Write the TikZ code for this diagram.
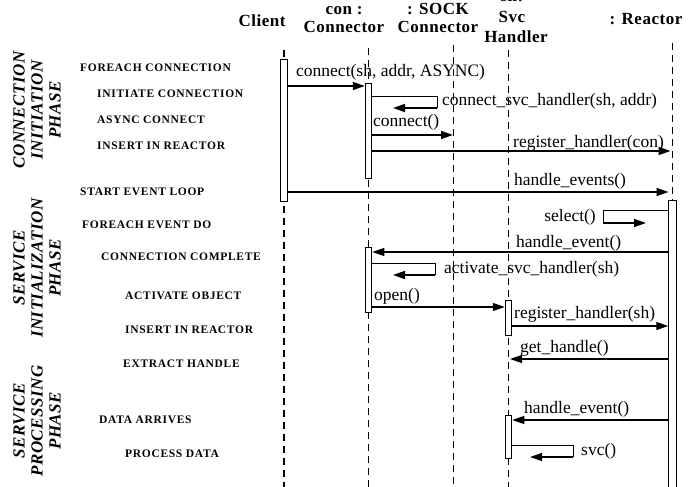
\documentclass[tikz,border=0pt]{standalone}
\usepackage{fontspec}
\setmainfont{Liberation Serif}
\newfontfamily\hdrfont[LetterSpace=3]{Liberation Serif}
\newfontfamily\stepfont[LetterSpace=6]{Liberation Serif}
\usetikzlibrary{arrows.meta}
\tikzset{
  hdr/.style={font=\hdrfont\bfseries\fontsize{17}{19}\selectfont, inner sep=0, anchor=base},
  steplbl/.style={font=\stepfont\bfseries\fontsize{11.5}{13}\selectfont, inner sep=0, anchor=base west},
  msglbl/.style={font=\fontsize{17.5}{19}\selectfont, inner sep=0, anchor=base west},
  phase/.style={font=\hdrfont\bfseries\itshape\fontsize{17}{18}\selectfont, rotate=90, align=center, inner sep=0},
  lifeline/.style={line width=1.1pt, dash pattern=on 7pt off 5pt},
  actbox/.style={draw, fill=white, line width=1pt, minimum width=6.5pt, inner sep=0},
  msg/.style={line width=1.3pt, -{Triangle[length=12pt,width=8pt]}},
  thinmsg/.style={line width=1pt},
}
\begin{document}
\begin{tikzpicture}[x=1pt,y=-1pt]
\useasboundingbox (0,0) rectangle (694,487);
% headers
\node[hdr] (hcl) at (262,27) {Client};
\node[hdr] (hcon1) at (344,15) {con :};
\node[hdr] (hcon2) at (344,33) {Connector};
\node[hdr] (hsock1) at (438,15) {: SOCK};
\node[hdr] (hsock2) at (438,33) {Connector};
\node[hdr] (hsvc0) at (512,2) {sh:};
\node[hdr] (hsvc1) at (512,23) {Svc};
\node[hdr] (hsvc2) at (516,43) {Handler};
\node[hdr] (hre) at (646,25) {: Reactor};
% lifelines
\coordinate (clT) at (284,50);  \coordinate (clB) at (284,487);
\coordinate (conT) at (368.5,48); \coordinate (conB) at (368.5,487);
\coordinate (sockT) at (453,45); \coordinate (sockB) at (453,487);
\coordinate (svcT) at (508.5,50); \coordinate (svcB) at (508.5,487);
\coordinate (reT) at (672.5,43); \coordinate (reB) at (672.5,487);
\draw[lifeline] (clT) -- (clB);
\draw[lifeline] (conT) -- (conB);
\draw[lifeline, line width=0.8pt] (sockT) -- (sockB);
\draw[lifeline, line width=0.8pt] (svcT) -- (svcB);
\draw[lifeline] (reT) -- (reB);
% activation boxes
\node[actbox, minimum height=141pt] (clA) at (284,130.5) {};
\node[actbox, minimum height=94pt] (conA) at (368.5,131) {};
\node[actbox, minimum height=65pt] (conB2) at (368.5,279.5) {};
\node[actbox, minimum height=35pt] (svcA) at (508.5,317.5) {};
\node[actbox, minimum height=43pt] (svcA2) at (508.5,436.5) {};
\node[actbox, minimum height=300pt, minimum width=7.5pt] (reA) at (672.5,350) {};
% message levels
\coordinate (y1) at (0,86);
\coordinate (y3) at (0,135);
\coordinate (y4) at (0,151);
\coordinate (y5) at (0,192);
\coordinate (y7) at (0,252);
\coordinate (y9) at (0,307);
\coordinate (y10) at (0,326);
\coordinate (y11) at (0,359);
\coordinate (y12) at (0,420);
% messages
\draw[msg, line width=1.6pt] (clA.east |- y1) -- (conA.west |- y1);
\draw[msg, line width=1.6pt] (conA.east |- y3) -- (sockT |- y3);
\draw[msg, line width=1.6pt] (conA.east |- y4) -- ([xshift=-2pt]reT |- y4);
\draw[msg, line width=1.6pt] (clA.east |- y5) -- ([xshift=-4pt]reT |- y5);
\draw[msg] (reA.west |- y7) -- (conB2.east |- y7);
\draw[msg] (conB2.east |- y9) -- (svcA.west |- y9);
\draw[msg] (svcA.east |- y10) -- (reA.west |- y10);
\draw[msg] (reA.west |- y11) -- ([xshift=1.5pt]svcT |- y11);
\draw[msg] (reA.west |- y12) -- (svcA2.east |- y12);
% self messages
\coordinate (s1a) at (437,97); \coordinate (s1b) at (437,108); \coordinate (s1c) at (393,108);
\draw[thinmsg] (conA.east |- s1a) -- (s1a) -- (s1b);
\draw[msg, line width=1.8pt] (s1b) -- (s1c);
\coordinate (s2a) at (603,210); \coordinate (s2b) at (603,223); \coordinate (s2c) at (646,223);
\draw[thinmsg] (reA.west |- s2a) -- (s2a) -- (s2b);
\draw[msg, line width=1.6pt] (s2b) -- (s2c);
\coordinate (s3a) at (435,263); \coordinate (s3b) at (435,275); \coordinate (s3c) at (393,275);
\draw[thinmsg] (conB2.east |- s3a) -- (s3a) -- (s3b);
\draw[msg, line width=1.6pt] (s3b) -- (s3c);
\coordinate (s4a) at (573,445); \coordinate (s4b) at (573,457); \coordinate (s4c) at (530,457);
\draw[thinmsg] (svcA2.east |- s4a) -- (s4a) -- (s4b);
\draw[msg, line width=1.6pt] (s4b) -- (s4c);
% message labels
\node[msglbl] (l1) at (296,77) {connect(sh, addr, ASYNC)};
\node[msglbl] (l2) at (442,106) {connect\_svc\_handler(sh, addr)};
\node[msglbl] (l3) at (373,127) {connect()};
\node[msglbl] (l4) at (513,147) {register\_handler(con)};
\node[msglbl] (l5) at (514,185) {handle\_events()};
\node[msglbl, anchor=base east] (l6) at (596,221) {select()};
\node[msglbl] (l7) at (516,247) {handle\_event()};
\node[msglbl] (l8) at (444,273) {activate\_svc\_handler(sh)};
\node[msglbl] (l9) at (374,300) {open()};
\node[msglbl] (l10) at (514,318) {register\_handler(sh)};
\node[msglbl] (l11) at (520,352) {get\_handle()};
\node[msglbl] (l12) at (524,413) {handle\_event()};
\node[msglbl] (l13) at (581,455) {svc()};
% step labels
\node[steplbl] (t1) at (80,72) {FOREACH CONNECTION};
\node[steplbl] (t2) at (97,98) {INITIATE CONNECTION};
\node[steplbl] (t3) at (97,123) {ASYNC CONNECT};
\node[steplbl] (t4) at (97,149) {INSERT IN REACTOR};
\node[steplbl] (t5) at (80,195) {START EVENT LOOP};
\node[steplbl] (t6) at (82,228) {FOREACH EVENT DO};
\node[steplbl] (t7) at (101,260) {CONNECTION COMPLETE};
\node[steplbl] (t8) at (125,299) {ACTIVATE OBJECT};
\node[steplbl] (t9) at (125,333) {INSERT IN REACTOR};
\node[steplbl] (t10) at (123,367) {EXTRACT HANDLE};
\node[steplbl] (t11) at (99,423) {DATA ARRIVES};
\node[steplbl] (t12) at (125,457) {PROCESS DATA};
% phase labels
\node[phase] (p1) at (37,110) {CONNECTION\\INITIATION\\PHASE};
\node[phase] (p2) at (37,268) {SERVICE\\INITIALIZATION\\PHASE};
\node[phase] (p3) at (37,421) {SERVICE\\PROCESSING\\PHASE};
\end{tikzpicture}
\end{document}
